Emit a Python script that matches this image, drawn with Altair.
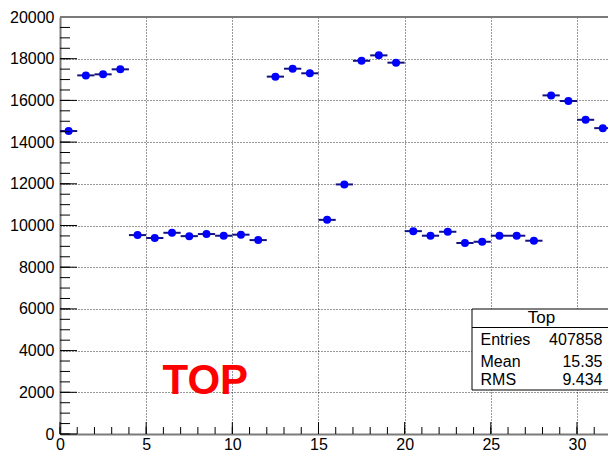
import altair as alt
import pandas as pd

# Per-bin counts of the "Top" histogram (32 unit-wide bins from 0 to 32)
counts = [14530, 17200, 17250, 17490, 9540, 9400, 9650, 9490,
          9590, 9510, 9560, 9300, 17140, 17520, 17300, 10270,
          11970, 17900, 18160, 17810, 9730, 9510, 9700, 9160,
          9220, 9510, 9510, 9270, 16240, 15970, 15070, 14670]
bin_low = list(range(32))

x_major = [0, 5, 10, 15, 20, 25, 30]
x_minor = list(range(0, 32))
y_major = [0, 2000, 4000, 6000, 8000, 10000, 12000, 14000, 16000, 18000, 20000]
y_minor = list(range(0, 20001, 500))

stats_title = "Top"
stats_names = ["Entries", "Mean", "RMS"]
stats_values = ["407858", "15.35", "9.434"]
label_text = "TOP"

W, H = 548, 417
FONT = "Liberation Sans"

hist = pd.DataFrame({
    "lo": bin_low,
    "hi": [b + 1 for b in bin_low],
    "center": [b + 0.5 for b in bin_low],
    "count": counts,
})

xs = alt.Scale(domain=[0, 31.8], nice=False, zero=False)
ys = alt.Scale(domain=[0, 20000], nice=False)

x_axis = alt.Axis(values=x_major, grid=True, gridDash=[1, 2], gridColor="#000000",
                  gridOpacity=0.8, ticks=False, domainColor="#7a7a7a", domainWidth=2,
                  labelFontSize=16, labelFont=FONT, labelColor="#000000",
                  labelPadding=2, title=None, labelFlush=False, format="d")
y_axis = alt.Axis(values=y_major, grid=True, gridDash=[1, 2], gridColor="#000000",
                  gridOpacity=0.8, ticks=False, domainColor="#7a7a7a", domainWidth=2,
                  labelFontSize=16, labelFont=FONT, labelColor="#000000",
                  labelPadding=6, title=None, labelFlush=False, format="d")

# horizontal bin-width bars
bars = alt.Chart(hist).mark_rule(color="#12127e", strokeWidth=2).encode(
    x=alt.X("lo:Q", scale=xs, axis=x_axis),
    x2="hi:Q",
    y=alt.Y("count:Q", scale=ys, axis=y_axis),
)

points = alt.Chart(hist).mark_point(filled=True, shape="circle", size=64,
                                    color="#0000ff", opacity=1).encode(
    x=alt.X("center:Q", scale=xs),
    y=alt.Y("count:Q", scale=ys),
)

# inward-pointing axis ticks
xt_major = alt.Chart(pd.DataFrame({"t": x_major})).mark_rule(color="#000000", strokeWidth=1).encode(
    x=alt.X("t:Q", scale=xs), y=alt.value(H), y2=alt.value(H - 12))
xt_minor = alt.Chart(pd.DataFrame({"t": x_minor})).mark_rule(color="#000000", strokeWidth=1).encode(
    x=alt.X("t:Q", scale=xs), y=alt.value(H), y2=alt.value(H - 7))
yt_major = alt.Chart(pd.DataFrame({"t": y_major})).mark_rule(color="#000000", strokeWidth=1).encode(
    y=alt.Y("t:Q", scale=ys), x=alt.value(0), x2=alt.value(17))
yt_minor = alt.Chart(pd.DataFrame({"t": y_minor})).mark_rule(color="#000000", strokeWidth=1).encode(
    y=alt.Y("t:Q", scale=ys), x=alt.value(0), x2=alt.value(10))

top_frame = alt.Chart(pd.DataFrame({"a": [0]})).mark_rule(color="#7a7a7a", strokeWidth=2).encode(
    x=alt.value(0), x2=alt.value(W), y=alt.value(0))

# statistics box
box = alt.Chart(pd.DataFrame({"a": [0]})).mark_rect(fill="white", stroke="black", strokeWidth=1).encode(
    x=alt.value(412), x2=alt.value(552), y=alt.value(292), y2=alt.value(373))
box_sep = alt.Chart(pd.DataFrame({"a": [0]})).mark_rule(color="black", strokeWidth=1).encode(
    x=alt.value(412), x2=alt.value(552), y=alt.value(310.5))
box_title = alt.Chart(pd.DataFrame({"s": [stats_title]})).mark_text(
    font=FONT, fontSize=17, align="center", baseline="alphabetic", color="black").encode(
    x=alt.value(481.5), y=alt.value(305.5), text="s:N")

rows_y = [328, 349.5, 368]
stats_df = pd.DataFrame({"name": stats_names, "val": stats_values, "yy": rows_y})
stat_names = alt.Chart(stats_df).mark_text(
    font=FONT, fontSize=16, align="left", baseline="alphabetic", color="black").encode(
    x=alt.value(420.5), y=alt.Y("yy:Q", scale=None), text="name:N")
stat_vals = alt.Chart(stats_df).mark_text(
    font=FONT, fontSize=16, align="right", baseline="alphabetic", color="black").encode(
    x=alt.value(542.5), y=alt.Y("yy:Q", scale=None), text="val:N")

big_label = alt.Chart(pd.DataFrame({"s": [label_text]})).mark_text(
    font=FONT, fontSize=42, fontWeight="bold", align="left", baseline="alphabetic",
    color="#ff0000").encode(x=alt.value(102.5), y=alt.value(376.5), text="s:N")

chart = alt.layer(
    bars, points, xt_minor, xt_major, yt_minor, yt_major, top_frame,
    box, box_sep, box_title, stat_names, stat_vals, big_label,
).properties(
    width=W, height=H,
    autosize=alt.AutoSizeParams(type="none"),
    padding={"left": 60, "top": 17, "right": 0, "bottom": 17},
).configure_view(stroke=None).configure(background="white")

chart.save("out.html", embed_options={"renderer": "svg", "actions": False})
